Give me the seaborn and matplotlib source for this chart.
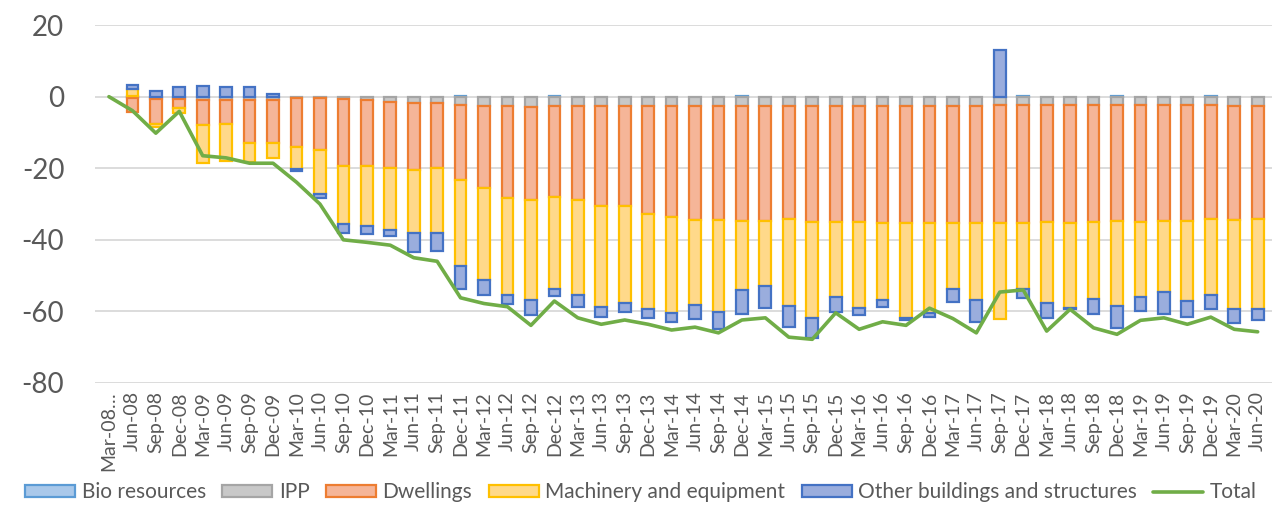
import numpy as np
import pandas as pd
import matplotlib
matplotlib.use("Agg")
import matplotlib.pyplot as plt
import seaborn as sns
from matplotlib.patches import Patch
from matplotlib.lines import Line2D

quarters = []
for yr in range(8, 21):
    for m in ["Mar", "Jun", "Sep", "Dec"]:
        quarters.append(f"{m}-{yr:02d}")
quarters = quarters[:50]
tick_labels = ["Mar-08…"] + quarters[1:]

bio = [0, 0.2, 0, 0, 0, 0, 0, 0, 0, 0,
       0, 0, 0, 0, 0, 0.2, 0, 0, 0, 0.2,
       0, 0, 0, 0, 0, 0, 0, 0.2, 0, 0,
       0, 0, 0, 0, 0, 0, 0, 0, 0, 0.2,
       0, 0, 0, 0.2, 0, 0, 0, 0.2, 0, 0]
ipp = [0, -0.4, -0.6, -0.6, -0.9, -0.9, -0.9, -0.9, -0.5, -0.5,
       -0.6, -0.8, -1.4, -1.7, -1.9, -2.4, -2.5, -2.7, -2.8, -2.6,
       -2.6, -2.6, -2.6, -2.6, -2.6, -2.6, -2.6, -2.6, -2.6, -2.6,
       -2.6, -2.5, -2.5, -2.5, -2.5, -2.5, -2.5, -2.5, -2.3, -2.3,
       -2.4, -2.4, -2.4, -2.4, -2.4, -2.4, -2.4, -2.4, -2.5, -2.7]
dwellings = [0, -4.0, -7.0, -2.6, -7.0, -6.7, -12.1, -12.1, -13.5, -14.3,
             -18.9, -18.5, -18.4, -18.7, -17.9, -20.9, -23.1, -25.6, -26.1, -25.4,
             -26.3, -28.0, -28.0, -30.3, -31.1, -31.9, -31.9, -32.2, -32.2, -31.7,
             -32.5, -32.5, -32.6, -32.8, -32.8, -32.8, -32.9, -32.9, -33.0, -33.0,
             -32.7, -32.9, -32.6, -32.4, -32.6, -32.4, -32.4, -31.9, -32.0, -31.6]
machinery = [0, 2.0, -0.8, -1.4, -10.7, -10.3, -5.3, -4.2, -6.3, -12.4,
             -16.0, -16.7, -17.5, -17.8, -18.4, -24.0, -25.7, -27.0, -27.9, -25.7,
             -26.5, -28.1, -27.0, -26.4, -26.7, -23.8, -25.7, -19.1, -18.1, -24.2,
             -26.7, -20.9, -24.0, -21.5, -26.5, -25.1, -18.3, -21.4, -26.7, -18.4,
             -22.5, -23.7, -21.4, -23.7, -21.0, -19.8, -22.3, -21.2, -24.9, -25.1]
other = [0, 1.1, 1.7, 2.6, 3.1, 2.8, 2.6, 0.7, -0.5, -1.1,
         -2.5, -2.5, -1.7, -5.2, -4.9, -6.4, -4.2, -2.7, -4.1, -2.0,
         -3.4, -2.9, -2.5, -2.6, -2.5, -3.7, -4.6, -6.8, -6.2, -5.8,
         -5.5, -4.3, -2.0, -2.0, -0.6, -1.1, -3.7, -6.1, 12.9, -2.6,
         -4.2, -0.4, -4.2, -6.2, -3.9, -6.2, -4.4, -3.9, -3.8, -3.1]
total = [0, -3.9, -10.2, -4.1, -16.5, -17.1, -18.6, -18.6, -23.9, -30.0,
         -40.0, -40.7, -41.5, -45.0, -46.0, -56.2, -57.8, -58.7, -63.9, -57.1,
         -61.8, -63.6, -62.4, -63.6, -65.2, -64.4, -66.0, -62.4, -61.8, -67.2,
         -67.8, -60.4, -65.0, -62.9, -63.9, -59.1, -62.0, -66.0, -54.6, -54.0,
         -65.5, -59.4, -64.6, -66.4, -62.5, -61.8, -63.6, -61.6, -65.0, -65.7]

series = [
    ("Bio resources", bio, "#A9C8EA", "#5B9BD5"),
    ("IPP", ipp, "#C8C8C8", "#A5A5A5"),
    ("Dwellings", dwellings, "#F5B598", "#ED7D31"),
    ("Machinery and equipment", machinery, "#FFD98A", "#FFC000"),
    ("Other buildings and structures", other, "#9AADDD", "#4472C4"),
]

sns.set_theme(style="white")
plt.rcParams["font.family"] = ["Lato", "DejaVu Sans"]

fig = plt.figure(figsize=(12.82, 5.12), dpi=100)
ax = fig.add_axes([0.074, 0.252, 0.918, 0.699])

x = np.arange(len(quarters))
pos_base = np.zeros(len(x))
neg_base = np.zeros(len(x))
for name, vals, fc, ec in series:
    v = np.array(vals, dtype=float)
    bottoms = np.where(v >= 0, pos_base, neg_base)
    m = v != 0
    ax.bar(x[m], v[m], bottom=bottoms[m], width=0.5, color=fc, edgecolor=ec,
           linewidth=1.6, zorder=3)
    pos_base = pos_base + np.where(v >= 0, v, 0)
    neg_base = neg_base + np.where(v < 0, v, 0)

df_total = pd.DataFrame({"x": x, "Total": total})
sns.lineplot(data=df_total, x="x", y="Total", ax=ax, color="#70AD47",
             linewidth=2.6, zorder=4)

ax.set_ylim(-80, 20)
ax.set_xlim(-0.6, len(x) - 0.4)
ax.set_yticks([-80, -60, -40, -20, 0, 20])
ax.set_yticklabels(["-80", "-60", "-40", "-20", "0", "20"])
ax.set_xticks(x)
ax.set_xticklabels(tick_labels, rotation=90)
ax.tick_params(axis="y", labelsize=20, labelcolor="#595959", length=0, pad=22)
ax.tick_params(axis="x", labelsize=14, labelcolor="#595959", length=0, pad=6)
ax.grid(axis="y", color="#D9D9D9", linewidth=1.3, zorder=0)
ax.set_axisbelow(True)
for s in ax.spines.values():
    s.set_visible(False)
ax.set_xlabel("")
ax.set_ylabel("")

handles = [Patch(facecolor=fc, edgecolor=ec, linewidth=1.6, label=name)
           for name, _, fc, ec in series]
handles.append(Line2D([0], [0], color="#70AD47", linewidth=2.6, label="Total"))
leg = fig.legend(handles=handles, loc="lower center", bbox_to_anchor=(0.5, -0.018),
                 ncol=6, frameon=False, fontsize=15.0, handlelength=2.4,
                 handleheight=0.55, columnspacing=0.8, handletextpad=0.3,
                 labelcolor="#595959")

fig.savefig("out.png", dpi=100)
